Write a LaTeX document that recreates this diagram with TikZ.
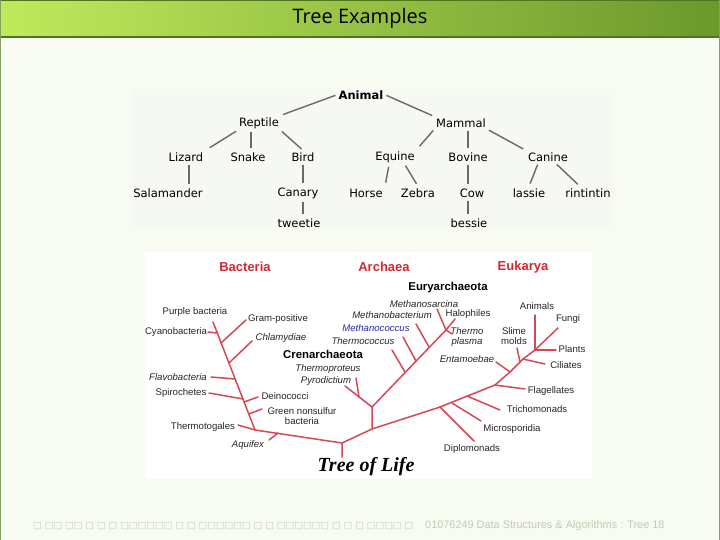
\documentclass[tikz,border=0pt]{standalone}
\usepackage{fontspec}
\setmainfont{Liberation Sans}
\newfontfamily\dejavu{DejaVu Sans}
\newfontfamily\titlefont{Open Sans}
\newfontfamily\serifbi{Liberation Serif}
\usetikzlibrary{calc}
\definecolor{slidebg}{RGB}{248,251,241}
\definecolor{barL}{RGB}{192,234,92}
\definecolor{barR}{RGB}{108,152,44}
\definecolor{barline}{RGB}{78,118,30}
\definecolor{treegray}{RGB}{105,105,105}
\definecolor{lifered}{RGB}{214,72,86}
\definecolor{labred}{RGB}{212,40,52}
\definecolor{lifeblue}{RGB}{40,40,165}
\definecolor{footgray}{RGB}{196,202,180}
\definecolor{picbg}{RGB}{246,248,244}
\tikzset{
  animtext/.style={font=\dejavu\fontsize{11.5}{13}\selectfont, inner sep=2pt, text=black},
  animbold/.style={animtext, font=\dejavu\bfseries\fontsize{11.5}{13}\selectfont},
  tedge/.style={draw=treegray, line width=1.4pt, shorten <=1pt, shorten >=2pt},
  lifetext/.style={font=\fontsize{9.6}{11}\selectfont, inner sep=1pt, text=black!85, align=center},
  lifeit/.style={lifetext, font=\itshape\fontsize{9.6}{11}\selectfont},
  lifebold/.style={lifetext, font=\bfseries\fontsize{11.4}{13}\selectfont, text=black},
  domainlabel/.style={font=\bfseries\fontsize{13}{15}\selectfont, text=labred, inner sep=1pt},
  branch/.style={draw=lifered, line width=1.5pt, line cap=round, line join=round}
}
\begin{document}
\begin{tikzpicture}[x=1pt,y=-1pt]
\useasboundingbox (0,0) rectangle (720,540);
% slide
\fill[slidebg] (0,0) rectangle (720,540);
\shade[left color=barL, right color=barR] (0,0) rectangle (720,37);
\draw[barline, line width=1.2pt] (0,0.6) -- (720,0.6);
\draw[barline, line width=1.4pt] (0,37) -- (720,37);
\draw[barline!70, line width=1pt] (0.5,0) -- (0.5,540);
\draw[barline!70, line width=1pt] (719.5,0) -- (719.5,540);
\node[font=\titlefont\fontsize{20}{22}\selectfont, text=black] (title) at (360,18) {Tree Examples};

% ---------- top picture ----------
\fill[picbg] (132,90) rectangle (614,228);
\node[animbold] (animal) at (361,95) {Animal};
\node[animtext] (reptile) at (259,123) {Reptile};
\node[animtext] (mammal) at (461,123) {Mammal};
\node[animtext] (lizard) at (186,157) {Lizard};
\node[animtext] (snake) at (248,157) {Snake};
\node[animtext] (bird) at (303,157) {Bird};
\node[animtext] (salamander) at (168,193) {Salamander};
\node[animtext] (canary) at (298,193) {Canary};
\node[animtext] (tweetie) at (299,223) {tweetie};
\node[animtext] (equine) at (395,157) {Equine};
\node[animtext] (bovine) at (468,157) {Bovine};
\node[animtext] (canine) at (548,157) {Canine};
\node[animtext] (horse) at (366,193) {Horse};
\node[animtext] (zebra) at (418,193) {Zebra};
\node[animtext] (cow) at (472,193) {Cow};
\node[animtext] (bessie) at (469,223) {bessie};
\node[animtext] (lassie) at (529,193) {lassie};
\node[animtext] (rintintin) at (588,193) {rintintin};

\draw[tedge] (animal.west) -- (reptile.north east);
\draw[tedge] (animal.east) -- (mammal.north west);
\draw[tedge, shorten >=5pt] (reptile.south west) -- (lizard.north east);
\draw[tedge] ($(reptile.south -| snake.north)+(3,0)$) -- ($(snake.north)+(3,0)$);
\draw[tedge] (reptile.south east) -- (bird.north);
\draw[tedge] ($(lizard.south)+(3,0)$) -- ($(lizard.south |- salamander.north)+(3,0)$);
\draw[tedge] (bird.south) -- (bird.south |- canary.north);
\draw[tedge] (bird.south |- canary.south) -- (bird.south |- tweetie.north);
\draw[tedge, shorten >=4pt] (mammal.south west) -- (equine.north east);
\draw[tedge] (mammal.south -| bovine.north) -- (bovine.north);
\draw[tedge, shorten >=3pt] (mammal.south east) -- (canine.north west);
\draw[tedge, shorten <=2pt, shorten >=4pt] ($(equine.south)+(-6,0)$) -- (horse.north east);
\draw[tedge, shorten >=3pt] ($(equine.south)+(10,0)$) -- (zebra.north);
\draw[tedge] (bovine.south) -- (bovine.south |- cow.north);
\draw[tedge] (bovine.south |- cow.south) -- (bovine.south |- bessie.north);
\draw[tedge, shorten >=3pt] ($(canine.south)+(-10,0)$) -- (lassie.north);
\draw[tedge, shorten >=3pt] ($(canine.south)+(8,0)$) -- ($(rintintin.north)+(-8,0)$);

% ---------- tree of life ----------
\fill[white] (145,252) rectangle (592,479);
\node[domainlabel] (bacteria) at (245,267) {Bacteria};
\node[domainlabel] (archaea) at (384,267) {Archaea};
\node[domainlabel] (eukarya) at (523,267) {Eukarya};

\node[lifetext] (purple) at (195,312) {Purple bacteria};
\node[lifetext] (gram) at (278,319) {Gram-positive};
\node[lifetext] (cyano) at (176,332) {Cyanobacteria};
\node[lifeit] (chlam) at (281,338) {Chlamydiae};
\node[lifebold] (cren) at (323,354) {Crenarchaeota};
\node[lifebold] (eury) at (448,288) {Euryarchaeota};
\node[lifeit] (msarc) at (424,304) {Methanosarcina};
\node[lifeit] (mbact) at (392,315) {Methanobacterium};
\node[lifetext] (halo) at (468,314) {Halophiles};
\node[lifeit, text=lifeblue] (mcocc) at (376,328) {Methanococcus};
\node[lifeit] (tcocc) at (363,341) {Thermococcus};
\node[lifeit, font=\itshape\fontsize{9.6}{10}\selectfont] (tplasma) at (467,337) {Thermo\\plasma};
\node[lifeit] (tprot) at (328,369) {Thermoproteus};
\node[lifeit] (pyro) at (326,381) {Pyrodictium};
\node[lifetext] (animals) at (537,306) {Animals};
\node[lifetext] (fungi) at (568,319) {Fungi};
\node[lifetext, font=\fontsize{9.6}{10}\selectfont] (slime) at (514,336) {Slime\\molds};
\node[lifetext] (plants) at (572,349) {Plants};
\node[lifeit] (entam) at (467,359) {Entamoebae};
\node[lifetext] (cili) at (566,365) {Ciliates};
\node[lifetext] (flag) at (551,391) {Flagellates};
\node[lifetext] (tricho) at (537,409) {Trichomonads};
\node[lifetext] (micro) at (512,429) {Microsporidia};
\node[lifetext] (diplo) at (472,449) {Diplomonads};
\node[lifeit] (flavo) at (178,377) {Flavobacteria};
\node[lifetext] (spiro) at (181,393) {Spirochetes};
\node[lifetext] (deino) at (285,396) {Deinococci};
\node[lifetext, font=\fontsize{9.6}{10.5}\selectfont] (green) at (302,416) {Green nonsulfur\\bacteria};
\node[lifetext] (ttog) at (203,427) {Thermotogales};
\node[lifeit] (aquif) at (248,445) {Aquifex};
\node[font=\serifbi\bfseries\itshape\fontsize{20}{22}\selectfont, inner sep=1pt] (tol) at (366,467) {Tree of Life};

% branch points
\coordinate (R) at (342,443);
\coordinate (Rb) at (342,457);
\coordinate (B0) at (255,430);
\coordinate (BT) at (213,322);
\coordinate (A0) at (372,429);
\coordinate (A1) at (372,407);
\coordinate (E1) at (446,330);
\coordinate (K1) at (440,407);
\coordinate (K2) at (495,385);
\coordinate (K3) at (510,372);
\coordinate (K4) at (523,359);
\coordinate (K5) at (535,350);
\coordinate (K6) at (558,328);

\draw[branch] (Rb) -- (R) -- (B0) -- (BT);
\draw[branch] (R) -- (A0) -- (K1) -- (K2) -- (K3) -- (K4) -- (K5) -- (K6);
% bacteria
\draw[branch] (208,332) -- (217,333);
\draw[branch] (221,343) -- (246,320);
\draw[branch] (229,363) -- (252,341);
\draw[branch] (211,377) -- (235,379);
\draw[branch] (209,393) -- (243,399);
\draw[branch] (244,402) -- (258,397);
\draw[branch] (249,414) -- (262,409);
\draw[branch] (238,425) -- (B0);
\draw[branch] (278,433) -- (269,440);
% archaea
\draw[branch] (A0) -- (A1) -- (345,386);
\draw[branch] (356,378) -- (359,397);
\draw[branch] (A1) -- (E1) -- (455,319);
\draw[branch] (E1) -- (437,309);
\draw[branch] (E1) -- (452,334);
\draw[branch] (392,350) -- (405,372);
\draw[branch] (403,337) -- (416,361);
\draw[branch] (416,324) -- (429,347);
% eukarya
\draw[branch] (K1) -- (474,441);
\draw[branch] (452,403) -- (481,421);
\draw[branch] (467,396) -- (500,410);
\draw[branch] (K2) -- (525,389);
\draw[branch] (K3) -- (496,362);
\draw[branch] (K4) -- (545,364);
\draw[branch] (517,348) -- (520,362);
\draw[branch] (K5) -- (535,315);
\draw[branch] (K5) -- (556,350);

% ---------- footer ----------
\node[anchor=west, font=\dejavu\fontsize{9.2}{11}\selectfont, text=footgray, inner sep=0pt] (boxes) at (33,526) {□ □□ □□ □ □ □ □□□□□□ □ □ □□□□□□ □ □ □□□□□□ □ □ □ □□□□ □};
\node[anchor=west, font=\fontsize{10.9}{12}\selectfont, text=footgray, inner sep=0pt] (footer) at (425,526) {01076249 Data Structures \& Algorithms : Tree 18};
\end{tikzpicture}
\end{document}
